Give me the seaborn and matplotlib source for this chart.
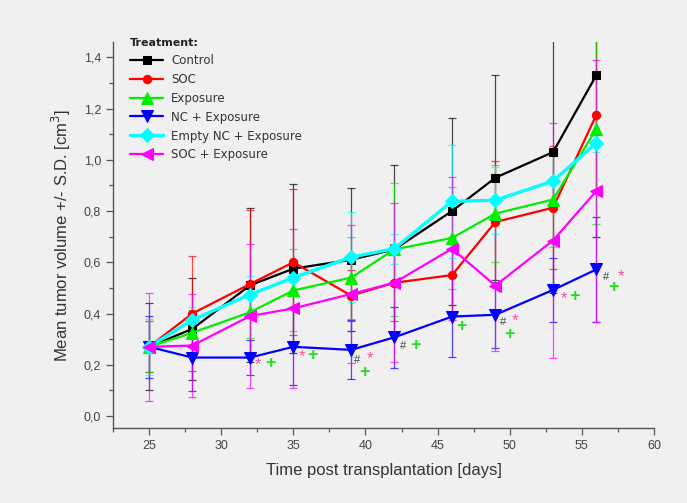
import matplotlib
matplotlib.use("Agg")
import matplotlib.pyplot as plt
import seaborn as sns
from matplotlib.ticker import FuncFormatter, MultipleLocator

# days post transplantation
days = [25, 28, 32, 35, 39, 42, 46, 49, 53, 56]

# group names as in the legend
groups = ["Control", "SOC", "Exposure", "NC + Exposure",
          "Empty NC + Exposure", "SOC + Exposure"]

# mean tumor volume [cm3]
control = [0.27, 0.34, 0.51, 0.575, 0.61, 0.65, 0.80, 0.93, 1.03, 1.33]
soc = [0.27, 0.40, 0.515, 0.60, 0.47, 0.52, 0.55, 0.757, 0.813, 1.175]
exposure = [0.27, 0.325, 0.405, 0.49, 0.54, 0.65, 0.695, 0.79, 0.845, 1.12]
nc_exposure = [0.27, 0.228, 0.228, 0.27, 0.258, 0.307, 0.388, 0.395, 0.492, 0.572]
empty_nc_exposure = [0.27, 0.375, 0.474, 0.54, 0.62, 0.653, 0.838, 0.842, 0.917, 1.066]
soc_exposure = [0.27, 0.275, 0.39, 0.42, 0.476, 0.52, 0.653, 0.509, 0.685, 0.878]

# standard deviations
control_sd = [0.17, 0.20, 0.30, 0.33, 0.28, 0.33, 0.365, 0.40, 0.55, 0.63]
soc_sd = [0.10, 0.225, 0.29, 0.285, 0.10, 0.15, 0.15, 0.24, 0.24, 0.30]
exposure_sd = [0.10, 0.09, 0.10, 0.16, 0.16, 0.26, 0.20, 0.19, 0.185, 0.37]
nc_exposure_sd = [0.12, 0.13, 0.07, 0.15, 0.115, 0.12, 0.157, 0.128, 0.124, 0.206]
empty_nc_exposure_sd = [0.11, 0.05, 0.074, 0.05, 0.176, 0.058, 0.22, 0.13, 0.10, 0.035]
soc_exposure_sd = [0.21, 0.20, 0.28, 0.31, 0.27, 0.31, 0.28, 0.254, 0.457, 0.51]

# significance marks next to the NC + Exposure points
sig_days = [32, 35, 39, 42, 46, 49, 53, 56]
sig_marks = ["*+", "*+", "#*+", "#+", "+", "#*+", "*+", "#*+"]

means = [control, soc, exposure, nc_exposure, empty_nc_exposure, soc_exposure]
sds = [control_sd, soc_sd, exposure_sd, nc_exposure_sd, empty_nc_exposure_sd, soc_exposure_sd]
colors = ["#000000", "#ff0000", "#00ee00", "#0000ff", "#00ffff", "#ff00ff"]
markers = ["s", "o", "^", "v", "D", "<"]
msizes = [6, 6, 8, 9, 7, 9]
lwidths = [1.6, 1.6, 1.6, 1.6, 2.4, 1.6]

bg = "#f0f0f0"
sns.set_style("ticks")
plt.rcParams["font.family"] = ["Liberation Sans", "DejaVu Sans"]

fig = plt.figure(figsize=(6.87, 5.03), dpi=100, facecolor=bg)
ax = fig.add_axes([113 / 687, 1 - 428 / 503, (654 - 113) / 687, (428 - 42) / 503])
ax.set_facecolor(bg)

for name, m, sd, c, mk, ms, lw in zip(groups, means, sds, colors, markers, msizes, lwidths):
    ax.errorbar(days, m, yerr=sd, fmt="none", ecolor=c, elinewidth=0.9,
                capsize=3, capthick=0.9, alpha=0.7, zorder=2)
    sns.lineplot(x=days, y=m, ax=ax, color=c, marker=mk, markersize=ms,
                 markeredgecolor=c, linewidth=lw, label=name, zorder=3)

# significance symbols
mark_style = {
    "*": dict(color="#ff4f9a", fontsize=12, offsets=[(8, -7), (9, -10), (19, -9), None, None, (20, -6), (11, -9), (25, -7)]),
    "+": dict(color="#22dd22", fontsize=13, offsets=[(20, -6), (19, -9), (13, -23), (21, -8), (9, -10), (14, -20), (21, -7), (17, -18)]),
    "#": dict(color="#444444", fontsize=8, offsets=[None, None, (6, -10), (9, -9), None, (8, -7), None, (10, -8)]),
}
nc_lookup = dict(zip(days, nc_exposure))
for i, (d, marks) in enumerate(zip(sig_days, sig_marks)):
    for s in marks:
        st = mark_style[s]
        off = st["offsets"][i]
        ax.annotate(s, xy=(d, nc_lookup[d]), xytext=off, textcoords="offset pixels",
                    ha="center", va="center", color=st["color"],
                    fontsize=st["fontsize"], fontweight="bold" if s == "+" else "normal",
                    zorder=4)

ax.set_xlim(22.5, 60)
ax.set_ylim(-0.047, 1.46)
ax.xaxis.set_major_locator(MultipleLocator(5))
ax.xaxis.set_minor_locator(MultipleLocator(2.5))
ax.yaxis.set_major_locator(MultipleLocator(0.2))
ax.yaxis.set_minor_locator(MultipleLocator(0.1))
ax.yaxis.set_major_formatter(FuncFormatter(lambda v, p: f"{v:.1f}".replace(".", ",")))

for side in ["top", "right"]:
    ax.spines[side].set_visible(False)
for side in ["left", "bottom"]:
    ax.spines[side].set_color("#555555")
    ax.spines[side].set_linewidth(1.0)
ax.tick_params(which="major", direction="out", length=5, width=0.9, color="#555555",
               labelsize=9, labelcolor="#444444")
ax.tick_params(which="minor", direction="out", length=3, width=0.9, color="#555555")

ax.set_xlabel("Time post transplantation [days]", fontsize=12, color="#333333", labelpad=8)
ax.set_ylabel("Mean tumor volume +/- S.D. [cm$^3$]", fontsize=12, color="#333333", labelpad=8)

leg = ax.legend(loc="upper left", bbox_to_anchor=(130 / 687, 1 - 38 / 503),
                bbox_transform=fig.transFigure, frameon=False,
                prop={"family": "DejaVu Sans", "size": 8.5},
                title="Treatment:",
                title_fontproperties={"family": "DejaVu Sans", "weight": "bold", "size": 8},
                alignment="left", handlelength=2.8, handletextpad=0.7,
                labelspacing=0.5, borderpad=0, borderaxespad=0)
for t in leg.get_texts():
    t.set_color("#333333")
leg.get_title().set_color("#222222")

fig.savefig("out.png", dpi=100, facecolor=bg)
